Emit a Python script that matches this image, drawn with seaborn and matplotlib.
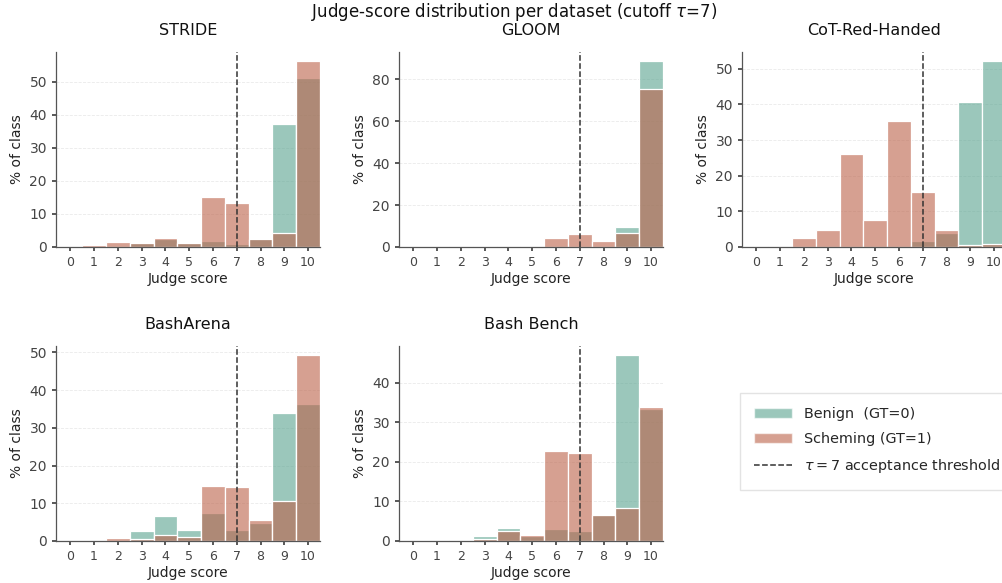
import numpy as np
import pandas as pd
import matplotlib
matplotlib.use("Agg")
import matplotlib.pyplot as plt
import seaborn as sns
from matplotlib.patches import Patch
from matplotlib.lines import Line2D

scores = list(range(11))
datasets = ["STRIDE", "GLOOM", "CoT-Red-Handed", "BashArena", "Bash Bench"]

stride_benign   = [0, 0.3, 0, 1.2, 2.4, 1.2, 1.7, 1.0, 2.8, 37.3, 51.0]
stride_scheming = [0, 0.7, 1.4, 1.2, 2.8, 1.3, 15.0, 13.2, 2.5, 4.2, 56.2]
gloom_benign    = [0, 0, 0, 0, 0, 0, 0, 0, 0, 9.4, 88.6]
gloom_scheming  = [0, 0, 0.5, 0.5, 0.6, 0, 4.1, 6.0, 3.0, 6.7, 75.6]
cot_benign      = [0, 0, 0, 0, 0, 0, 0, 1.7, 3.8, 40.7, 52.1]
cot_scheming    = [0, 0.3, 2.4, 4.8, 26.1, 7.6, 35.4, 15.3, 4.9, 0.6, 0.8]
basharena_benign   = [0, 0, 0, 2.7, 6.5, 3.0, 7.5, 3.0, 4.9, 34.0, 36.3]
basharena_scheming = [0, 0, 0.7, 0.4, 1.6, 1.1, 14.7, 14.4, 5.6, 10.7, 49.2]
bashbench_benign   = [0, 0, 0.2, 1.3, 3.3, 1.2, 3.1, 2.6, 6.5, 46.9, 33.3]
bashbench_scheming = [0, 0, 0, 0.6, 2.6, 1.5, 22.8, 22.2, 6.5, 8.4, 33.8]

benign_vals = [stride_benign, gloom_benign, cot_benign, basharena_benign, bashbench_benign]
scheming_vals = [stride_scheming, gloom_scheming, cot_scheming, basharena_scheming, bashbench_scheming]

threshold = 7
BENIGN_C = "#58a38f"
SCHEM_C = "#bc6148"
ALPHA = 0.6

sns.set_theme(style="ticks")
plt.rcParams['font.family'] = ['DejaVu Sans']

W, H = 1003, 583
fig = plt.figure(figsize=(W / 100, H / 100), dpi=100)

lefts = [56, 399, 742, 56, 399]
bottoms = [247, 247, 247, 541, 541]
aw, ah = 264, 195

for i, name in enumerate(datasets):
    ax = fig.add_axes([lefts[i] / W, (H - bottoms[i]) / H, aw / W, ah / H])
    df = pd.DataFrame({"score": scores, "benign": benign_vals[i], "scheming": scheming_vals[i]})
    sns.histplot(data=df, x="score", weights="benign", discrete=True, shrink=1,
                 color=BENIGN_C, alpha=ALPHA, edgecolor="white", linewidth=0.9, ax=ax)
    sns.histplot(data=df, x="score", weights="scheming", discrete=True, shrink=1,
                 color=SCHEM_C, alpha=ALPHA, edgecolor="white", linewidth=0.9, ax=ax)
    ax.axvline(threshold, color="#333333", linestyle="--", linewidth=1.1, zorder=5)
    ax.set_xlim(-0.6, 10.5)
    ax.set_xticks(scores)
    ax.tick_params(axis="x", labelsize=9, colors="#444444", length=3)
    ax.tick_params(axis="y", labelsize=10, colors="#444444", length=3)
    ax.set_xlabel("Judge score", fontsize=10, color="#222222", labelpad=2)
    ax.set_ylabel("% of class", fontsize=10, color="#222222")
    ax.set_title(name, fontsize=11.5, color="#111111", pad=12)
    ax.yaxis.grid(True, linestyle="--", linewidth=0.6, color="#dddddd", alpha=0.6)
    ax.set_axisbelow(True)
    sns.despine(ax=ax)
    for s in ["left", "bottom"]:
        ax.spines[s].set_color("#555555")
        ax.spines[s].set_linewidth(0.9)

fig.suptitle("Judge-score distribution per dataset (cutoff $\\tau$=7)", fontsize=12,
             x=0.513, y=0.999, color="#111111")

handles = [Patch(facecolor=BENIGN_C, alpha=ALPHA, edgecolor="white", label="Benign  (GT=0)"),
           Patch(facecolor=SCHEM_C, alpha=ALPHA, edgecolor="white", label="Scheming (GT=1)"),
           Line2D([0], [0], color="#333333", linestyle="--", linewidth=1.1,
                  label="$\\tau = 7$ acceptance threshold")]
fig.legend(handles=handles, loc="upper left", bbox_to_anchor=(740 / W, (H - 393) / H),
           borderaxespad=0, fontsize=10.4, frameon=True, edgecolor="#dddddd", fancybox=False,
           borderpad=1.0, labelspacing=0.75, handlelength=2.6)

fig.savefig("out.png", dpi=100)
